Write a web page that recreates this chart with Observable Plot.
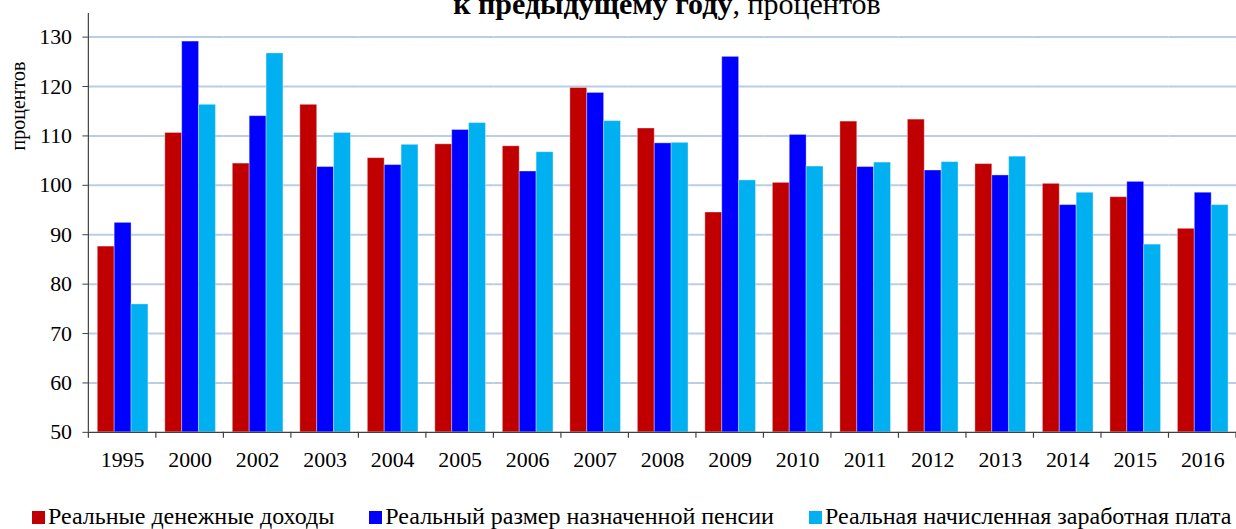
<!DOCTYPE html>
<html><head><meta charset="utf-8">
<script src="https://cdn.jsdelivr.net/npm/d3@7"></script>
<script src="https://cdn.jsdelivr.net/npm/@observablehq/plot@0.6"></script>
<style>
html,body{margin:0;padding:0;background:#fff;}
body{width:1236px;height:529px;overflow:hidden;position:relative;font-family:"Liberation Serif","Times New Roman",serif;color:#000;}
#chart{position:absolute;left:0;top:0;width:1236px;height:529px;overflow:hidden;}
#title{position:absolute;left:89px;width:1156px;top:-11px;text-align:center;font-size:30px;line-height:30px;white-space:nowrap;}
#ylab{position:absolute;left:18px;top:106px;transform:translate(-50%,-50%) rotate(-90deg);font-size:20px;line-height:20px;white-space:nowrap;}
#legend{position:absolute;left:32px;top:503px;display:flex;align-items:center;font-size:24px;line-height:26px;white-space:nowrap;}
#legend .item{display:flex;align-items:center;margin-right:35px;}
#legend .sw{width:13px;height:13px;margin-right:3px;margin-top:3px;}
</style>
</head><body>
<div id="chart"></div>
<div id="title"><b>к предыдущему году</b>, процентов</div>
<div id="ylab">процентов</div>
<div id="legend"></div>
<script>
const years = ["1995","2000","2002","2003","2004","2005","2006","2007","2008","2009","2010","2011","2012","2013","2014","2015","2016"];
const seriesNames = ["Реальные денежные доходы","Реальный размер назначенной пенсии","Реальная начисленная заработная плата"];
const seriesColors = ["#c00000","#0000ff","#00b0f0"];
const income  = [87.6,110.6,104.4,116.3,105.5,108.3,107.9,119.7,111.5,94.5,100.5,112.9,113.3,104.3,100.3,97.6,91.2];
const pension = [92.4,129.1,114.0,103.7,104.1,111.2,102.8,118.7,108.5,126.0,110.2,103.7,103.0,102.0,96.0,100.7,98.5];
const wage    = [75.9,116.3,126.7,110.6,108.2,112.6,106.7,113.0,108.6,101.0,103.8,104.6,104.7,105.8,98.5,88.0,96.0];
const yTicks = [50,60,70,80,90,100,110,120,130];
const yBase = 50;

const seriesValues = [income, pension, wage];
const data = [];
years.forEach((yr, i) => {
  seriesNames.forEach((s, j) => data.push({year: yr, series: s, value: seriesValues[j][i]}));
});

const plot = Plot.plot({
  width: 1245,
  height: 477,
  marginLeft: 89,
  marginRight: 0,
  marginTop: 13,
  marginBottom: 42,
  style: {fontFamily: "'Liberation Serif','Times New Roman',serif", fontSize: "22px", color: "#000", background: "transparent", overflow: "visible"},
  fx: {domain: years, padding: 0, label: null},
  x: {domain: seriesNames, paddingInner: 0, paddingOuter: 0.5, axis: null},
  y: {domain: [50, 134.8], label: null},
  color: {domain: seriesNames, range: seriesColors},
  marks: [
    Plot.gridY(yTicks.slice(1), {stroke: "#b9cde5", strokeOpacity: 1, strokeWidth: 2}),
    Plot.barY(data, {fx: "year", x: "series", y1: yBase, y2: "value", fill: "series", stroke: "#ffffff", strokeOpacity: 0.35, strokeWidth: 1}),
    Plot.ruleY([yBase], {stroke: "#404040", strokeWidth: 1.2}),
    Plot.axisY({ticks: yTicks, tickSize: 6, tickPadding: 11, stroke: "#404040", fill: "#000", label: null, tickFormat: d => d}),
    Plot.axisFx({anchor: "bottom", tickSize: 0, tickPadding: 19, fill: "#000", label: null})
  ]
});
document.getElementById("chart").appendChild(plot);

// Excel-style axis line and category boundary ticks, placed through the plot's own scales
const fx = plot.scale("fx");
const y = plot.scale("y");
const svg = d3.select(plot);
const bounds = years.map(d => fx.apply(d)).concat([fx.apply(years[years.length - 1]) + fx.bandwidth]);
const g = svg.append("g").attr("stroke", "#404040").attr("stroke-width", 1.2);
g.selectAll("line.b").data(bounds).join("line")
  .attr("x1", d => d).attr("x2", d => d)
  .attr("y1", y.apply(yBase)).attr("y2", y.apply(yBase) + 6);
g.append("line")
  .attr("x1", bounds[0]).attr("x2", bounds[0])
  .attr("y1", y.apply(yBase)).attr("y2", y.apply(y.domain[1]));

// legend
const leg = d3.select("#legend");
seriesNames.forEach((s, i) => {
  const it = leg.append("div").attr("class", "item");
  it.append("div").attr("class", "sw").style("background", seriesColors[i]);
  it.append("span").text(s);
});
</script>
</body></html>
